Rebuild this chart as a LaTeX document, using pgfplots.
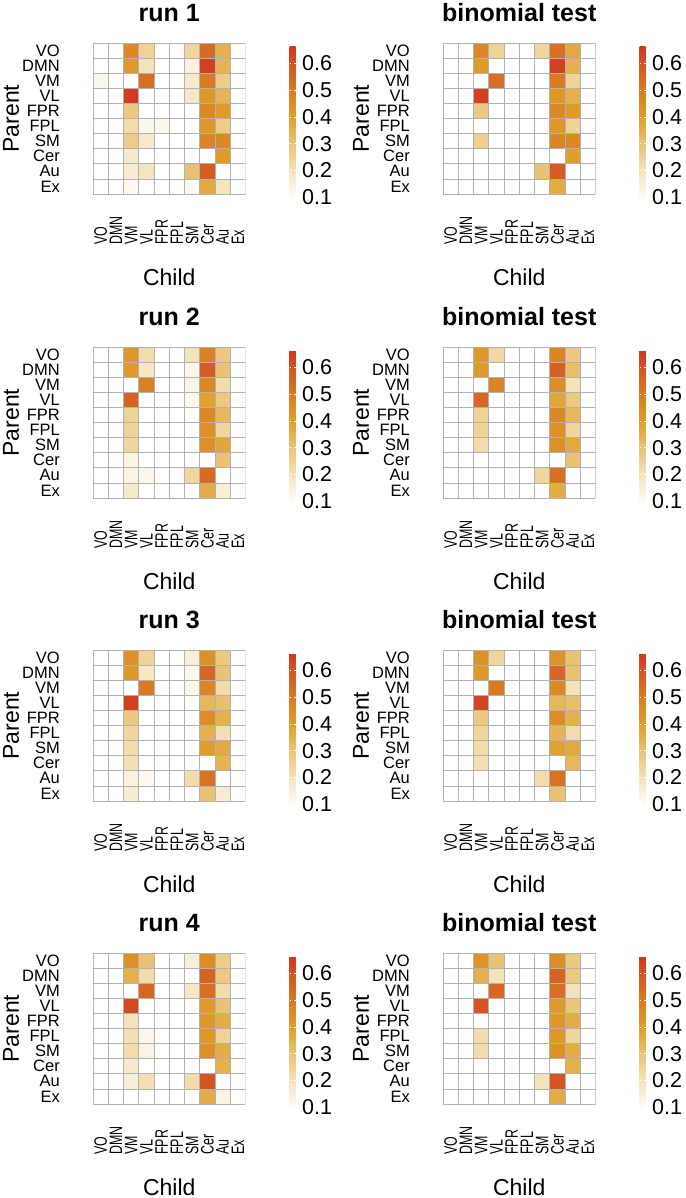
\documentclass[border=0pt]{standalone}
\usepackage{fontspec}
\setmainfont{Liberation Sans}
\usepackage{graphicx}
\usepackage{pgfplots}
\pgfplotsset{compat=1.18}

% narrow, tall child labels as in the reference
\newcommand{\xl}[1]{{\fontsize{18}{18}\selectfont\scalebox{0.69}[1]{#1}}}

% colour scale: white at the low end, orange in the middle, red at the top
\pgfplotsset{
  colormap={hm}{rgb255(0pt)=(255,255,255) rgb255(1pt)=(254,252,247) rgb255(11pt)=(244,226,185)
    rgb255(21pt)=(234,194,115) rgb255(31pt)=(224,158,42) rgb255(41pt)=(218,122,34)
    rgb255(51pt)=(213,84,34) rgb255(57.5pt)=(208,52,30)},
  hm/.style={
    scale only axis, width=152.5pt, height=151pt, anchor=north west,
    xmin=-0.5, xmax=9.5, ymin=-0.5, ymax=9.5, y dir=reverse,
    axis line style={draw=none}, major tick length=0pt,
    xtick={0,...,9}, ytick={0,...,9},
    xticklabels={\xl{VO},\xl{DMN},\xl{VM},\xl{VL},\xl{FPR},\xl{FPL},\xl{SM},\xl{Cer},\xl{Au},\xl{Ex}},
    yticklabels={VO,DMN,VM,VL,FPR,FPL,SM,Cer,Au,Ex},
    tick label style={inner sep=0pt},
    yticklabel style={font=\fontsize{16.5}{16.5}\selectfont},
    xticklabel style={rotate=90, anchor=west},
    xticklabel shift=51pt, yticklabel shift=33pt,
    every axis title/.style={at={(axis description cs:0.5,1)}, anchor=center, yshift=30pt,
      font=\bfseries\fontsize{25}{25}\selectfont},
    every axis x label/.style={at={(axis description cs:0.5,0)}, anchor=center, yshift=-83pt,
      font=\fontsize{23}{23}\selectfont},
    every axis y label/.style={at={(axis description cs:0,0.5)}, xshift=-82pt, rotate=90,
      anchor=center, font=\fontsize{23}{23}\selectfont},
    xlabel={Child}, ylabel={Parent},
    colormap name=hm, point meta min=0.09, point meta max=0.665,
    colorbar,
    colorbar style={
      at={(parent axis.north east)}, anchor=north west, xshift=35.5pt, yshift=-3pt,
      scale only axis, width=6pt, height=154pt, y dir=normal,
      title={}, xlabel={}, ylabel={},
      axis line style={draw=none},
      xticklabel shift=0pt, yticklabel shift=0pt,
      ytick={0.1,0.2,0.3,0.4,0.5,0.6},
      ytick pos=both, yticklabel pos=right, tick align=inside,
      major tick length=1.5pt, major tick style={white, line width=0.6pt},
      yticklabel style={font=\fontsize{21.5}{21.5}\selectfont, inner sep=0pt, xshift=6.5pt,
        rotate=0, anchor=west,
        /pgf/number format/fixed, /pgf/number format/precision=1,
        /pgf/number format/assume math mode=true},
    },
  },
  cells/.style={matrix plot*, mesh/cols=10, point meta=explicit,
    shader=faceted, faceted color=gray!60, draw=gray!60, line width=0.8pt},
}

\begin{document}
\begin{tikzpicture}
\useasboundingbox (0,0) rectangle (685pt,-1198pt);

% ---- row 1
\begin{axis}[hm, at={(93pt,-43pt)}, title={run 1}]
\addplot[cells] coordinates {
(0,0)[0] (1,0)[0] (2,0)[0.46] (3,0)[0.25] (4,0)[0] (5,0)[0] (6,0)[0.24] (7,0)[0.54] (8,0)[0.35] (9,0)[0]
(0,1)[0] (1,1)[0] (2,1)[0.41] (3,1)[0.20] (4,1)[0] (5,1)[0] (6,1)[0.14] (7,1)[0.64] (8,1)[0.34] (9,1)[0]
(0,2)[0.12] (1,2)[0] (2,2)[0] (3,2)[0.53] (4,2)[0] (5,2)[0] (6,2)[0.17] (7,2)[0.50] (8,2)[0.27] (9,2)[0]
(0,3)[0] (1,3)[0] (2,3)[0.65] (3,3)[0] (4,3)[0] (5,3)[0] (6,3)[0.18] (7,3)[0.42] (8,3)[0.34] (9,3)[0]
(0,4)[0] (1,4)[0] (2,4)[0.28] (3,4)[0] (4,4)[0] (5,4)[0] (6,4)[0] (7,4)[0.46] (8,4)[0.41] (9,4)[0]
(0,5)[0] (1,5)[0] (2,5)[0.22] (3,5)[0.12] (4,5)[0.12] (5,5)[0] (6,5)[0] (7,5)[0.42] (8,5)[0.27] (9,5)[0]
(0,6)[0] (1,6)[0] (2,6)[0.27] (3,6)[0.17] (4,6)[0] (5,6)[0] (6,6)[0] (7,6)[0.47] (8,6)[0.46] (9,6)[0]
(0,7)[0] (1,7)[0] (2,7)[0.17] (3,7)[0] (4,7)[0] (5,7)[0] (6,7)[0] (7,7)[0] (8,7)[0.41] (9,7)[0]
(0,8)[0] (1,8)[0] (2,8)[0.16] (3,8)[0.19] (4,8)[0] (5,8)[0] (6,8)[0.30] (7,8)[0.58] (8,8)[0] (9,8)[0]
(0,9)[0] (1,9)[0] (2,9)[0.11] (3,9)[0] (4,9)[0] (5,9)[0] (6,9)[0.11] (7,9)[0.37] (8,9)[0.19] (9,9)[0]
};
\end{axis}

\begin{axis}[hm, at={(443pt,-43pt)}, title={binomial test}]
\addplot[cells] coordinates {
(0,0)[0] (1,0)[0] (2,0)[0.46] (3,0)[0.25] (4,0)[0] (5,0)[0] (6,0)[0.24] (7,0)[0.53] (8,0)[0.37] (9,0)[0]
(0,1)[0] (1,1)[0] (2,1)[0.41] (3,1)[0] (4,1)[0] (5,1)[0] (6,1)[0] (7,1)[0.64] (8,1)[0.35] (9,1)[0]
(0,2)[0] (1,2)[0] (2,2)[0] (3,2)[0.53] (4,2)[0] (5,2)[0] (6,2)[0] (7,2)[0.50] (8,2)[0.25] (9,2)[0]
(0,3)[0] (1,3)[0] (2,3)[0.64] (3,3)[0] (4,3)[0] (5,3)[0] (6,3)[0] (7,3)[0.42] (8,3)[0.35] (9,3)[0]
(0,4)[0] (1,4)[0] (2,4)[0.28] (3,4)[0] (4,4)[0] (5,4)[0] (6,4)[0] (7,4)[0.46] (8,4)[0.41] (9,4)[0]
(0,5)[0] (1,5)[0] (2,5)[0] (3,5)[0] (4,5)[0] (5,5)[0] (6,5)[0] (7,5)[0.42] (8,5)[0.25] (9,5)[0]
(0,6)[0] (1,6)[0] (2,6)[0.26] (3,6)[0] (4,6)[0] (5,6)[0] (6,6)[0] (7,6)[0.47] (8,6)[0.46] (9,6)[0]
(0,7)[0] (1,7)[0] (2,7)[0] (3,7)[0] (4,7)[0] (5,7)[0] (6,7)[0] (7,7)[0] (8,7)[0.40] (9,7)[0]
(0,8)[0] (1,8)[0] (2,8)[0] (3,8)[0] (4,8)[0] (5,8)[0] (6,8)[0.30] (7,8)[0.58] (8,8)[0] (9,8)[0]
(0,9)[0] (1,9)[0] (2,9)[0] (3,9)[0] (4,9)[0] (5,9)[0] (6,9)[0] (7,9)[0.36] (8,9)[0] (9,9)[0]
};
\end{axis}

% ---- row 2
\begin{axis}[hm, at={(93pt,-347pt)}, title={run 2}]
\addplot[cells] coordinates {
(0,0)[0] (1,0)[0] (2,0)[0.42] (3,0)[0.22] (4,0)[0] (5,0)[0] (6,0)[0.20] (7,0)[0.48] (8,0)[0.28] (9,0)[0]
(0,1)[0] (1,1)[0] (2,1)[0.41] (3,1)[0.18] (4,1)[0] (5,1)[0] (6,1)[0.12] (7,1)[0.58] (8,1)[0.30] (9,1)[0]
(0,2)[0] (1,2)[0] (2,2)[0] (3,2)[0.48] (4,2)[0] (5,2)[0] (6,2)[0.13] (7,2)[0.46] (8,2)[0.22] (9,2)[0]
(0,3)[0] (1,3)[0] (2,3)[0.56] (3,3)[0] (4,3)[0] (5,3)[0] (6,3)[0.11] (7,3)[0.39] (8,3)[0.28] (9,3)[0]
(0,4)[0] (1,4)[0] (2,4)[0.25] (3,4)[0] (4,4)[0] (5,4)[0] (6,4)[0] (7,4)[0.46] (8,4)[0.33] (9,4)[0]
(0,5)[0] (1,5)[0] (2,5)[0.25] (3,5)[0] (4,5)[0] (5,5)[0] (6,5)[0] (7,5)[0.44] (8,5)[0.24] (9,5)[0]
(0,6)[0] (1,6)[0] (2,6)[0.24] (3,6)[0] (4,6)[0] (5,6)[0] (6,6)[0] (7,6)[0.44] (8,6)[0.38] (9,6)[0]
(0,7)[0] (1,7)[0] (2,7)[0.13] (3,7)[0] (4,7)[0] (5,7)[0] (6,7)[0] (7,7)[0] (8,7)[0.30] (9,7)[0]
(0,8)[0] (1,8)[0] (2,8)[0.13] (3,8)[0.12] (4,8)[0] (5,8)[0] (6,8)[0.24] (7,8)[0.54] (8,8)[0] (9,8)[0]
(0,9)[0] (1,9)[0] (2,9)[0.17] (3,9)[0] (4,9)[0] (5,9)[0] (6,9)[0] (7,9)[0.36] (8,9)[0.15] (9,9)[0]
};
\end{axis}

\begin{axis}[hm, at={(443pt,-347pt)}, title={binomial test}]
\addplot[cells] coordinates {
(0,0)[0] (1,0)[0] (2,0)[0.42] (3,0)[0.23] (4,0)[0] (5,0)[0] (6,0)[0] (7,0)[0.47] (8,0)[0.28] (9,0)[0]
(0,1)[0] (1,1)[0] (2,1)[0.41] (3,1)[0] (4,1)[0] (5,1)[0] (6,1)[0] (7,1)[0.57] (8,1)[0.31] (9,1)[0]
(0,2)[0] (1,2)[0] (2,2)[0] (3,2)[0.47] (4,2)[0] (5,2)[0] (6,2)[0] (7,2)[0.45] (8,2)[0.20] (9,2)[0]
(0,3)[0] (1,3)[0] (2,3)[0.55] (3,3)[0] (4,3)[0] (5,3)[0] (6,3)[0] (7,3)[0.38] (8,3)[0.28] (9,3)[0]
(0,4)[0] (1,4)[0] (2,4)[0.25] (3,4)[0] (4,4)[0] (5,4)[0] (6,4)[0] (7,4)[0.46] (8,4)[0.33] (9,4)[0]
(0,5)[0] (1,5)[0] (2,5)[0.25] (3,5)[0] (4,5)[0] (5,5)[0] (6,5)[0] (7,5)[0.44] (8,5)[0.24] (9,5)[0]
(0,6)[0] (1,6)[0] (2,6)[0.22] (3,6)[0] (4,6)[0] (5,6)[0] (6,6)[0] (7,6)[0.44] (8,6)[0.37] (9,6)[0]
(0,7)[0] (1,7)[0] (2,7)[0] (3,7)[0] (4,7)[0] (5,7)[0] (6,7)[0] (7,7)[0] (8,7)[0.30] (9,7)[0]
(0,8)[0] (1,8)[0] (2,8)[0] (3,8)[0] (4,8)[0] (5,8)[0] (6,8)[0.24] (7,8)[0.53] (8,8)[0] (9,8)[0]
(0,9)[0] (1,9)[0] (2,9)[0] (3,9)[0] (4,9)[0] (5,9)[0] (6,9)[0] (7,9)[0.36] (8,9)[0] (9,9)[0]
};
\end{axis}

% ---- row 3
\begin{axis}[hm, at={(93pt,-650pt)}, title={run 3}]
\addplot[cells] coordinates {
(0,0)[0] (1,0)[0] (2,0)[0.44] (3,0)[0.25] (4,0)[0] (5,0)[0] (6,0)[0.15] (7,0)[0.44] (8,0)[0.28] (9,0)[0]
(0,1)[0] (1,1)[0] (2,1)[0.42] (3,1)[0.18] (4,1)[0] (5,1)[0] (6,1)[0.11] (7,1)[0.55] (8,1)[0.30] (9,1)[0]
(0,2)[0] (1,2)[0] (2,2)[0] (3,2)[0.50] (4,2)[0] (5,2)[0] (6,2)[0.12] (7,2)[0.47] (8,2)[0.22] (9,2)[0]
(0,3)[0] (1,3)[0] (2,3)[0.64] (3,3)[0] (4,3)[0] (5,3)[0] (6,3)[0] (7,3)[0.33] (8,3)[0.31] (9,3)[0]
(0,4)[0] (1,4)[0] (2,4)[0.28] (3,4)[0] (4,4)[0] (5,4)[0] (6,4)[0] (7,4)[0.45] (8,4)[0.35] (9,4)[0]
(0,5)[0] (1,5)[0] (2,5)[0.24] (3,5)[0] (4,5)[0] (5,5)[0] (6,5)[0] (7,5)[0.35] (8,5)[0.21] (9,5)[0]
(0,6)[0] (1,6)[0] (2,6)[0.22] (3,6)[0] (4,6)[0] (5,6)[0] (6,6)[0] (7,6)[0.40] (8,6)[0.37] (9,6)[0]
(0,7)[0] (1,7)[0] (2,7)[0.21] (3,7)[0] (4,7)[0] (5,7)[0] (6,7)[0] (7,7)[0] (8,7)[0.34] (9,7)[0]
(0,8)[0] (1,8)[0] (2,8)[0.14] (3,8)[0.11] (4,8)[0] (5,8)[0] (6,8)[0.22] (7,8)[0.52] (8,8)[0] (9,8)[0]
(0,9)[0] (1,9)[0] (2,9)[0.16] (3,9)[0] (4,9)[0] (5,9)[0] (6,9)[0] (7,9)[0.30] (8,9)[0.16] (9,9)[0]
};
\end{axis}

\begin{axis}[hm, at={(443pt,-650pt)}, title={binomial test}]
\addplot[cells] coordinates {
(0,0)[0] (1,0)[0] (2,0)[0.44] (3,0)[0.24] (4,0)[0] (5,0)[0] (6,0)[0] (7,0)[0.43] (8,0)[0.30] (9,0)[0]
(0,1)[0] (1,1)[0] (2,1)[0.42] (3,1)[0] (4,1)[0] (5,1)[0] (6,1)[0] (7,1)[0.55] (8,1)[0.30] (9,1)[0]
(0,2)[0] (1,2)[0] (2,2)[0] (3,2)[0.50] (4,2)[0] (5,2)[0] (6,2)[0] (7,2)[0.46] (8,2)[0.20] (9,2)[0]
(0,3)[0] (1,3)[0] (2,3)[0.63] (3,3)[0] (4,3)[0] (5,3)[0] (6,3)[0] (7,3)[0.33] (8,3)[0.31] (9,3)[0]
(0,4)[0] (1,4)[0] (2,4)[0.28] (3,4)[0] (4,4)[0] (5,4)[0] (6,4)[0] (7,4)[0.45] (8,4)[0.35] (9,4)[0]
(0,5)[0] (1,5)[0] (2,5)[0.24] (3,5)[0] (4,5)[0] (5,5)[0] (6,5)[0] (7,5)[0.34] (8,5)[0.22] (9,5)[0]
(0,6)[0] (1,6)[0] (2,6)[0.22] (3,6)[0] (4,6)[0] (5,6)[0] (6,6)[0] (7,6)[0.39] (8,6)[0.37] (9,6)[0]
(0,7)[0] (1,7)[0] (2,7)[0.21] (3,7)[0] (4,7)[0] (5,7)[0] (6,7)[0] (7,7)[0] (8,7)[0.33] (9,7)[0]
(0,8)[0] (1,8)[0] (2,8)[0] (3,8)[0] (4,8)[0] (5,8)[0] (6,8)[0.22] (7,8)[0.52] (8,8)[0] (9,8)[0]
(0,9)[0] (1,9)[0] (2,9)[0] (3,9)[0] (4,9)[0] (5,9)[0] (6,9)[0] (7,9)[0.30] (8,9)[0] (9,9)[0]
};
\end{axis}

% ---- row 4
\begin{axis}[hm, at={(93pt,-953pt)}, title={run 4}]
\addplot[cells] coordinates {
(0,0)[0] (1,0)[0] (2,0)[0.44] (3,0)[0.30] (4,0)[0] (5,0)[0] (6,0)[0.15] (7,0)[0.45] (8,0)[0.27] (9,0)[0]
(0,1)[0] (1,1)[0] (2,1)[0.35] (3,1)[0.22] (4,1)[0] (5,1)[0] (6,1)[0] (7,1)[0.56] (8,1)[0.28] (9,1)[0]
(0,2)[0] (1,2)[0] (2,2)[0] (3,2)[0.55] (4,2)[0] (5,2)[0] (6,2)[0.18] (7,2)[0.53] (8,2)[0.22] (9,2)[0]
(0,3)[0] (1,3)[0] (2,3)[0.62] (3,3)[0] (4,3)[0] (5,3)[0] (6,3)[0] (7,3)[0.41] (8,3)[0.30] (9,3)[0]
(0,4)[0] (1,4)[0] (2,4)[0.20] (3,4)[0] (4,4)[0] (5,4)[0] (6,4)[0] (7,4)[0.42] (8,4)[0.36] (9,4)[0]
(0,5)[0] (1,5)[0] (2,5)[0.21] (3,5)[0.12] (4,5)[0] (5,5)[0] (6,5)[0] (7,5)[0.42] (8,5)[0.25] (9,5)[0]
(0,6)[0] (1,6)[0] (2,6)[0.22] (3,6)[0.13] (4,6)[0] (5,6)[0] (6,6)[0] (7,6)[0.44] (8,6)[0.36] (9,6)[0]
(0,7)[0] (1,7)[0] (2,7)[0.17] (3,7)[0] (4,7)[0] (5,7)[0] (6,7)[0] (7,7)[0] (8,7)[0.35] (9,7)[0]
(0,8)[0] (1,8)[0] (2,8)[0.15] (3,8)[0.21] (4,8)[0] (5,8)[0] (6,8)[0.22] (7,8)[0.60] (8,8)[0] (9,8)[0]
(0,9)[0] (1,9)[0] (2,9)[0] (3,9)[0] (4,9)[0] (5,9)[0] (6,9)[0] (7,9)[0.36] (8,9)[0.13] (9,9)[0]
};
\end{axis}

\begin{axis}[hm, at={(443pt,-953pt)}, title={binomial test}]
\addplot[cells] coordinates {
(0,0)[0] (1,0)[0] (2,0)[0.43] (3,0)[0.30] (4,0)[0] (5,0)[0] (6,0)[0] (7,0)[0.45] (8,0)[0.28] (9,0)[0]
(0,1)[0] (1,1)[0] (2,1)[0.35] (3,1)[0.20] (4,1)[0] (5,1)[0] (6,1)[0] (7,1)[0.56] (8,1)[0.28] (9,1)[0]
(0,2)[0] (1,2)[0] (2,2)[0] (3,2)[0.55] (4,2)[0] (5,2)[0] (6,2)[0] (7,2)[0.53] (8,2)[0.20] (9,2)[0]
(0,3)[0] (1,3)[0] (2,3)[0.60] (3,3)[0] (4,3)[0] (5,3)[0] (6,3)[0] (7,3)[0.41] (8,3)[0.29] (9,3)[0]
(0,4)[0] (1,4)[0] (2,4)[0] (3,4)[0] (4,4)[0] (5,4)[0] (6,4)[0] (7,4)[0.42] (8,4)[0.36] (9,4)[0]
(0,5)[0] (1,5)[0] (2,5)[0.22] (3,5)[0] (4,5)[0] (5,5)[0] (6,5)[0] (7,5)[0.42] (8,5)[0.24] (9,5)[0]
(0,6)[0] (1,6)[0] (2,6)[0.22] (3,6)[0] (4,6)[0] (5,6)[0] (6,6)[0] (7,6)[0.44] (8,6)[0.36] (9,6)[0]
(0,7)[0] (1,7)[0] (2,7)[0] (3,7)[0] (4,7)[0] (5,7)[0] (6,7)[0] (7,7)[0] (8,7)[0.35] (9,7)[0]
(0,8)[0] (1,8)[0] (2,8)[0] (3,8)[0] (4,8)[0] (5,8)[0] (6,8)[0.20] (7,8)[0.60] (8,8)[0] (9,8)[0]
(0,9)[0] (1,9)[0] (2,9)[0] (3,9)[0] (4,9)[0] (5,9)[0] (6,9)[0] (7,9)[0.36] (8,9)[0] (9,9)[0]
};
\end{axis}
\end{tikzpicture}
\end{document}
